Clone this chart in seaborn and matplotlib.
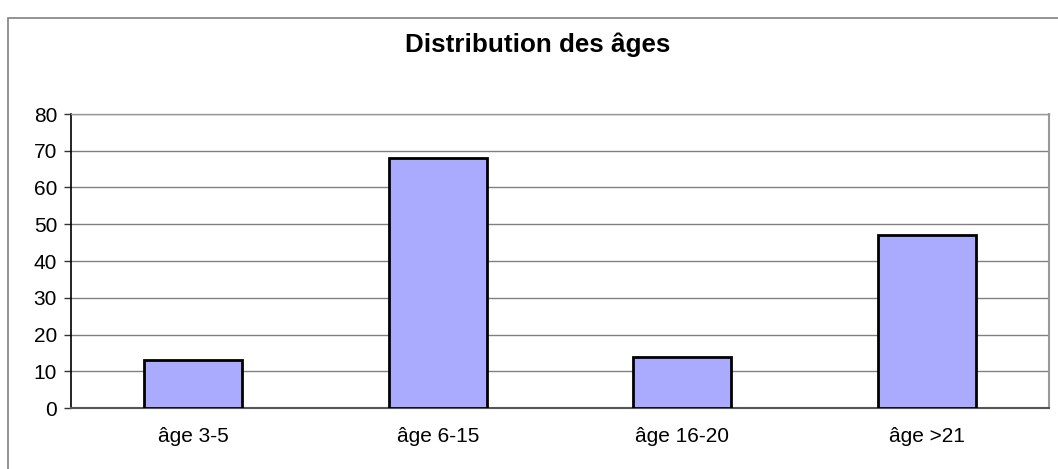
import numpy as np
import seaborn as sns
import matplotlib.pyplot as plt
import pandas as pd
from matplotlib.patches import Rectangle

categories = ["âge 3-5", "âge 6-15", "âge 16-20", "âge >21"]
counts = [13, 68, 14, 47]
title = "Distribution des âges"

sns.set_style("white")
plt.rcParams["font.family"] = ["Liberation Sans", "DejaVu Sans"]
plt.rcParams["text.color"] = "black"
plt.rcParams["xtick.color"] = "black"
plt.rcParams["ytick.color"] = "black"

df = pd.DataFrame({"cat": categories, "n": counts})

fig = plt.figure(figsize=(10.58, 4.69), dpi=100)
ax = fig.add_axes([71 / 1058, 1 - 408 / 469, (1049 - 71) / 1058, (408 - 114) / 469])

sns.barplot(data=df, x="cat", y="n", color="#AAAAFF", width=0.4,
            edgecolor="black", linewidth=2, saturation=1, ax=ax, zorder=3)

ax.set_ylim(0, 80)
ax.set_xlim(-0.5, 3.5)
ax.set_yticks(np.arange(0, 81, 10))
ax.yaxis.grid(True, color="#808080", linewidth=1, zorder=0)
ax.set_axisbelow(True)
ax.set_xlabel("")
ax.set_ylabel("")

# category boundary ticks like Excel
ax.set_xticks(np.arange(-0.5, 4, 1), minor=True)
ax.tick_params(axis="x", which="major", length=0, pad=14, labelsize=15)
ax.tick_params(axis="x", which="minor", length=6, width=1, color="#555555", direction="out")
ax.tick_params(axis="y", length=5, width=1, color="#333333", direction="out", pad=5, labelsize=15, left=True)

ax.spines["left"].set_color("black")
ax.spines["left"].set_linewidth(1.2)
ax.spines["bottom"].set_color("#555555")
ax.spines["bottom"].set_linewidth(1.5)
ax.spines["right"].set_color("#999999")
ax.spines["right"].set_linewidth(1.5)
ax.spines["top"].set_color("#999999")
ax.spines["top"].set_linewidth(1)

fig.text(538 / 1058, 1 - 45 / 469, title, ha="center", va="center",
         fontsize=18.7, fontweight="bold", color="black")

fig.add_artist(Rectangle((8 / 1058, -0.1), 1.2, (469 - 18) / 469 + 0.1,
                         transform=fig.transFigure, fill=False,
                         edgecolor="#808080", linewidth=1.2))

fig.savefig("out.png", dpi=100)
